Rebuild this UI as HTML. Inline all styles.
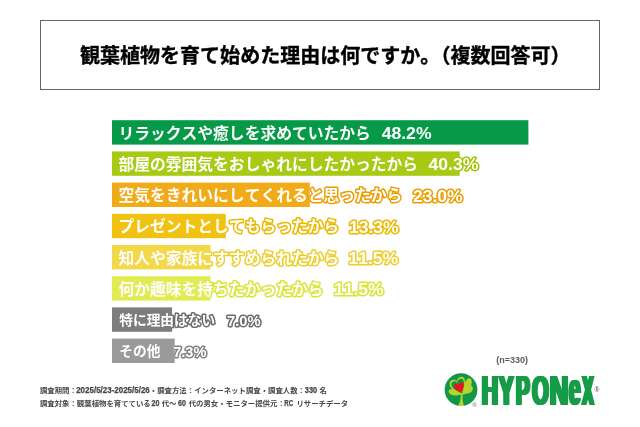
<!DOCTYPE html>
<html lang="ja">
<head>
<meta charset="utf-8">
<title>観葉植物を育て始めた理由は何ですか。</title>
<style>
html,body{margin:0;padding:0;background:#fff;}
body{width:640px;height:427px;overflow:hidden;font-family:"Liberation Sans","Noto Sans CJK JP",sans-serif;}
svg{display:block;}
text{font-family:"Liberation Sans","Noto Sans CJK JP",sans-serif;text-spacing-trim:space-all;font-kerning:none;}
.title{font-size:20.03px;font-weight:700;fill:#000;stroke:#000;stroke-width:0.35;}
.lbl{font-size:15.8px;font-weight:700;stroke-linejoin:round;stroke-linecap:round;}
.bk{stroke-width:3.0;}
.pct{font-size:16.2px;}
.foot{font-size:7.4px;font-weight:700;fill:#484848;}
.n{font-size:9px;font-weight:700;fill:#5c5c5c;}
</style>
</head>
<body>
<svg width="640" height="427" viewBox="0 0 640 427">
<rect x="0" y="0" width="640" height="427" fill="#fff"/>
<rect x="40.5" y="20.5" width="559" height="69" fill="#fff" stroke="#666" stroke-width="1"/>
<text class="title" y="62.6"><tspan x="80.0">観葉植物を育て始めた理由は何ですか。</tspan><tspan x="430.5">（複数回答可）</tspan></text>

<g stroke="#009543" fill="#009543" class="bk"><g id="row1"><text class="lbl" style="font-size:15.77px" x="118.5" y="138.7">リラックスや癒しを求めていたから</text><text class="lbl" style="font-size:17.0px" transform="translate(381.63,139.2) scale(1.0359,1)">48.2%</text></g></g>
<rect x="112.0" y="120.2" width="416.4" height="24.4" fill="#069a48"/>
<use href="#row1" fill="#fff" stroke="none"/>
<g stroke="#a0c400" fill="#a0c400" class="bk"><g id="row2"><text class="lbl" style="font-size:15.77px" x="118.5" y="169.9">部屋の雰囲気をおしゃれにしたかったから</text><text class="lbl" style="font-size:17.0px" transform="translate(428.53,170.4) scale(1.0359,1)">40.3%</text></g></g>
<rect x="112.0" y="151.4" width="347.7" height="24.4" fill="#a9ca14"/>
<use href="#row2" fill="#fff" stroke="none"/>
<g stroke="#eb9e00" fill="#eb9e00" class="bk"><g id="row3"><text class="lbl" style="font-size:15.77px" x="118.5" y="201.1">空気をきれいにしてくれると思ったから</text><text class="lbl" style="font-size:17.0px" transform="translate(412.89,201.6) scale(1.0347,1)">23.0%</text></g></g>
<rect x="112.0" y="182.6" width="197.8" height="24.4" fill="#f2ab18"/>
<use href="#row3" fill="#fff" stroke="none"/>
<g stroke="#eab900" fill="#eab900" class="bk"><g id="row4"><text class="lbl" style="font-size:15.77px" x="118.5" y="232.3">プレゼントとしてもらったから</text><text class="lbl" style="font-size:17.0px" transform="translate(348.89,232.8) scale(1.0346,1)">13.3%</text></g></g>
<rect x="112.0" y="213.8" width="113.8" height="24.4" fill="#f1c211"/>
<use href="#row4" fill="#fff" stroke="none"/>
<g stroke="#ecce2e" fill="#ecce2e" class="bk"><g id="row5"><text class="lbl" style="font-size:15.77px" x="118.5" y="263.5">知人や家族にすすめられたから</text><text class="lbl" style="font-size:17.0px" transform="translate(348.50,264.0) scale(1.0303,1)">11.5%</text></g></g>
<rect x="112.0" y="245.0" width="98.5" height="24.4" fill="#f3d849"/>
<use href="#row5" fill="#fff" stroke="none"/>
<g stroke="#d9e539" fill="#d9e539" class="bk"><g id="row6"><text class="lbl" style="font-size:15.77px" x="118.5" y="294.7">何か趣味を持ちたかったから</text><text class="lbl" style="font-size:17.0px" transform="translate(334.00,295.2) scale(1.0303,1)">11.5%</text></g></g>
<rect x="112.0" y="276.2" width="98.5" height="24.4" fill="#e1ec52"/>
<use href="#row6" fill="#fff" stroke="none"/>
<g stroke="#6c6c6c" fill="#6c6c6c" class="bk"><g id="row7"><text class="lbl" style="font-size:13.7px" x="119.3" y="325.2">特に理由はない</text><text class="lbl" style="font-size:14.2px" transform="translate(226.97,325.7) scale(1.0388,1)">7.0%</text></g></g>
<rect x="112.0" y="307.4" width="60.1" height="24.4" fill="#7d7d7d"/>
<use href="#row7" fill="#fff" stroke="none"/>
<g stroke="#848484" fill="#848484" class="bk"><g id="row8"><text class="lbl" style="font-size:13.7px" x="119.3" y="356.4">その他</text><text class="lbl" style="font-size:14.2px" transform="translate(173.17,356.9) scale(1.0261,1)">7.3%</text></g></g>
<rect x="112.0" y="338.6" width="62.7" height="24.4" fill="#9a9a9a"/>
<use href="#row8" fill="#fff" stroke="none"/>
<text class="n" x="496.3" y="362.8">(n=330)</text>
<text class="foot" y="393.4"><tspan x="39.9">調査期間：</tspan><tspan x="76.2" textLength="73.6" lengthAdjust="spacingAndGlyphs" font-size="8.3" stroke="#484848" stroke-width="0.25">2025/5/23-2025/5/26</tspan><tspan x="149.8">・調査方法：インターネット調査・調査人数：</tspan><tspan x="304.8" textLength="12.4" lengthAdjust="spacingAndGlyphs" font-size="8.3" stroke="#484848" stroke-width="0.25">330</tspan><tspan x="319.5">名</tspan></text>
<text class="foot" y="406.3"><tspan x="39.9">調査対象：観葉植物を育てている</tspan><tspan x="151.6" textLength="7.9" lengthAdjust="spacingAndGlyphs" font-size="8.3" stroke="#484848" stroke-width="0.25">20</tspan><tspan x="161.7">代～</tspan><tspan x="178.1" textLength="7.9" lengthAdjust="spacingAndGlyphs" font-size="8.3" stroke="#484848" stroke-width="0.25">60</tspan><tspan x="188.7">代の男女・モニター提供元：</tspan><tspan x="284.2" textLength="8.9" lengthAdjust="spacingAndGlyphs" font-size="8.3" stroke="#484848" stroke-width="0.25">RC</tspan><tspan x="296.4">リサーチデータ</tspan></text>
<defs><filter id="hd" x="-3%" y="-5%" width="106%" height="110%"><feMorphology operator="dilate" radius="1 0" result="a"/><feOffset in="a" dx="1.3" dy="0" result="b"/><feMerge><feMergeNode in="a"/><feMergeNode in="b"/></feMerge></filter></defs>
<g id="logo">
<g transform="translate(444,372) scale(0.08432)">
<circle cx="202" cy="210" r="194" fill="#11964a"/>
<g fill="#b6d42d">
<path d="M210 264 C150 238 58 200 66 135 C71 92 122 78 152 108 C160 58 218 38 242 80 C264 122 236 200 210 264 Z"/>
<path d="M220 270 C232 200 240 104 286 78 C322 64 342 110 320 158 C348 172 352 222 314 244 C282 262 250 260 220 270 Z"/>
<path d="M208 264 C170 276 110 292 74 262 C40 234 54 198 96 201 C132 205 172 236 208 264 Z"/>
<path d="M196 250 C200 300 200 352 166 404 L240 404 C216 352 216 300 224 250 Z"/>
</g>
<path fill="#11964a" d="M209 252 C165 230 80 198 89 140 C94 108 130 100 153 128 C165 78 210 64 229 96 C247 130 228 198 209 252 Z"/>
<path fill="#e8151b" d="M207 244 C172 226 112 202 119 162 C124 136 150 132 168 154 C180 122 214 112 230 134 C246 162 226 206 207 244 Z"/>
</g>
<g filter="url(#hd)">
<text font-family="'Liberation Sans',sans-serif" font-weight="700" font-size="40.0" fill="#159b47" transform="translate(0,404.7) scale(1,1.0465)" y="0"><tspan x="481.29" textLength="16.34" lengthAdjust="spacingAndGlyphs">H</tspan><tspan x="498.43" textLength="14.63" lengthAdjust="spacingAndGlyphs">Y</tspan><tspan x="515.52" textLength="13.79" lengthAdjust="spacingAndGlyphs">P</tspan><tspan x="531.73" textLength="16.46" lengthAdjust="spacingAndGlyphs">O</tspan><tspan x="549.18" textLength="18.55" lengthAdjust="spacingAndGlyphs">N</tspan><tspan x="568.49" textLength="11.52" lengthAdjust="spacingAndGlyphs" font-size="44.04">e</tspan><tspan x="581.65" textLength="11.40" lengthAdjust="spacingAndGlyphs">X</tspan></text>
</g>
<text x="472.6" y="407" font-size="5.6" fill="#555" font-family="'Liberation Sans',sans-serif">®</text>
<text x="594.6" y="392.3" font-size="6.6" fill="#444" font-family="'Liberation Sans',sans-serif">®</text>
</g>

</svg>
</body>
</html>
